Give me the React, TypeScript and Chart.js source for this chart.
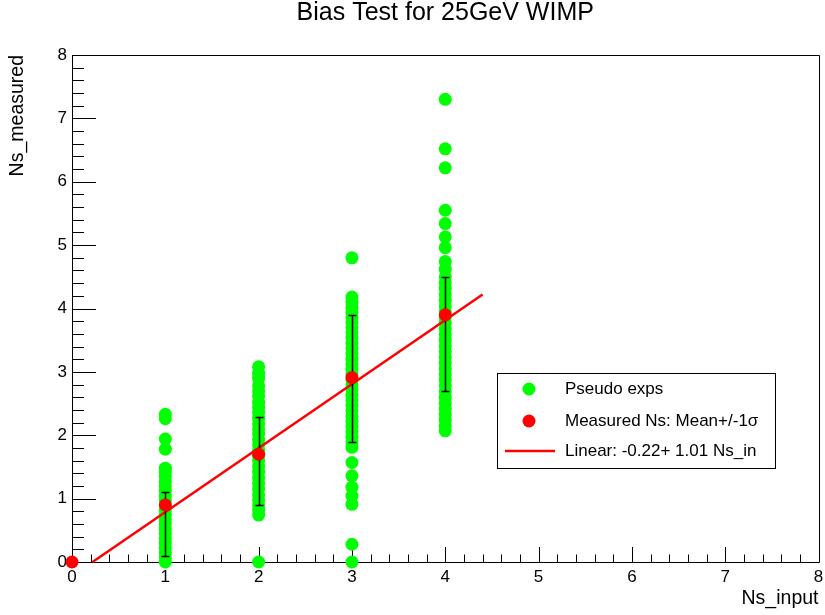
import React, { useEffect, useRef } from 'react';
import { Chart, registerables } from 'chart.js';

Chart.register(...registerables);

const TITLE = 'Bias Test for 25GeV WIMP';
const X_TITLE = 'Ns_input';
const Y_TITLE = 'Ns_measured';

const X_MIN = 0;
const X_MAX = 8;
const Y_MIN = 0;
const Y_MAX = 8;

// Pseudo experiments: measured Ns for each input Ns
const pseudoAt1 = [2.33, 2.26, 1.94, 1.78, 1.48, 1.42, 1.35, 1.27, 1.2, 1.12, 1.04, 0.97, 0.9, 0.82, 0.74, 0.67, 0.6, 0.52, 0.45, 0.37, 0.3, 0.22, 0.15, 0.08, 0.0];
const pseudoAt2 = [3.08, 2.98, 2.9, 2.78, 2.7, 2.62, 2.52, 2.44, 2.36, 2.27, 2.18, 2.1, 2.02, 1.93, 1.85, 1.76, 1.68, 1.6, 1.51, 1.42, 1.33, 1.24, 1.15, 1.06, 0.98, 0.9, 0.82, 0.74, 0.0];
const pseudoAt3 = [4.8, 4.18, 4.1, 4.02, 3.94, 3.86, 3.78, 3.7, 3.62, 3.54, 3.45, 3.37, 3.29, 3.2, 3.12, 3.04, 2.96, 2.88, 2.8, 2.72, 2.63, 2.55, 2.47, 2.39, 2.3, 2.22, 2.14, 2.05, 1.97, 1.89, 1.81, 1.57, 1.36, 1.18, 1.04, 0.91, 0.28, 0.0];
const pseudoAt4 = [7.3, 6.52, 6.22, 5.55, 5.34, 5.13, 4.96, 4.74, 4.62, 4.5, 4.41, 4.32, 4.22, 4.13, 4.04, 3.95, 3.86, 3.77, 3.68, 3.59, 3.5, 3.41, 3.32, 3.23, 3.14, 3.05, 2.96, 2.87, 2.78, 2.69, 2.6, 2.51, 2.42, 2.33, 2.24, 2.15, 2.07];
const pseudoInputs = [1, 2, 3, 4];
const pseudoValues = [pseudoAt1, pseudoAt2, pseudoAt3, pseudoAt4];

// Measured Ns: mean with asymmetric -1 sigma / +1 sigma ends
const meanX = [0, 1, 2, 3, 4];
const meanY = [0, 0.9, 1.7, 2.91, 3.9];
const errLowEnd = [null, 0.1, 0.9, 1.89, 2.7];
const errHighEnd = [null, 1.1, 2.29, 3.9, 4.5];

// Linear fit line
const fitX = [0.22, 4.4];
const fitY = [0, 4.22];

const LEGEND_LABELS = ['Pseudo exps', 'Measured Ns: Mean+/-1\u03c3', 'Linear: -0.22+ 1.01 Ns_in'];

const GREEN = '#00ff00';
const RED = '#ff0000';
const FONT = "'Liberation Sans', Arial, Helvetica, sans-serif";

const rootAxesPlugin = {
  id: 'rootAxes',
  beforeDatasetsDraw(chart: any) {
    const { ctx, chartArea: a, scales } = chart;
    const x = scales.x;
    const y = scales.y;
    ctx.save();
    ctx.strokeStyle = '#000';
    ctx.lineWidth = 1;
    ctx.beginPath();
    ctx.rect(Math.round(a.left) + 0.5, Math.round(a.top) + 0.5, Math.round(a.right - a.left), Math.round(a.bottom - a.top));
    ctx.stroke();
    ctx.beginPath();
    const nx = Math.round((X_MAX - X_MIN) / 0.2);
    for (let i = 0; i <= nx; i++) {
      const v = X_MIN + i * 0.2;
      const px = Math.round(x.getPixelForValue(v)) + 0.5;
      const len = i % 5 === 0 ? 15 : 7.5;
      ctx.moveTo(px, a.bottom);
      ctx.lineTo(px, a.bottom - len);
    }
    const ny = Math.round((Y_MAX - Y_MIN) / 0.2);
    for (let i = 0; i <= ny; i++) {
      const v = Y_MIN + i * 0.2;
      const py = Math.round(y.getPixelForValue(v)) + 0.5;
      const len = i % 5 === 0 ? 24 : 12;
      ctx.moveTo(a.left, py);
      ctx.lineTo(a.left + len, py);
    }
    ctx.stroke();
    ctx.restore();
  },
};

const errorBarPlugin = {
  id: 'errorBars',
  afterDatasetDraw(chart: any, args: any) {
    if (args.index !== 2) return;
    const { ctx, scales } = chart;
    const x = scales.x;
    const y = scales.y;
    ctx.save();
    ctx.strokeStyle = '#000';
    ctx.lineWidth = 1.5;
    ctx.beginPath();
    for (let i = 0; i < meanX.length; i++) {
      const lo = errLowEnd[i];
      const hi = errHighEnd[i];
      if (lo === null || hi === null) continue;
      const px = Math.round(x.getPixelForValue(meanX[i])) + 0.5;
      const pLo = y.getPixelForValue(lo);
      const pHi = y.getPixelForValue(hi);
      ctx.moveTo(px, pLo);
      ctx.lineTo(px, pHi);
      ctx.moveTo(px - 4, Math.round(pLo) + 0.5);
      ctx.lineTo(px + 4, Math.round(pLo) + 0.5);
      ctx.moveTo(px - 4, Math.round(pHi) + 0.5);
      ctx.lineTo(px + 4, Math.round(pHi) + 0.5);
    }
    ctx.stroke();
    ctx.restore();
  },
};

const legendBoxPlugin = {
  id: 'legendBox',
  afterDraw(chart: any) {
    const { ctx } = chart;
    const box = { left: 497, top: 373, right: 775, bottom: 468 };
    const rows = [389, 421, 451];
    ctx.save();
    ctx.fillStyle = '#fff';
    ctx.fillRect(box.left, box.top, box.right - box.left, box.bottom - box.top);
    ctx.strokeStyle = '#000';
    ctx.lineWidth = 1;
    ctx.strokeRect(box.left + 0.5, box.top + 0.5, box.right - box.left, box.bottom - box.top);
    const ds = chart.data.datasets;
    ctx.fillStyle = ds[0].backgroundColor;
    ctx.beginPath();
    ctx.arc(529, rows[0], 6.5, 0, Math.PI * 2);
    ctx.fill();
    ctx.fillStyle = ds[1].backgroundColor;
    ctx.beginPath();
    ctx.arc(529, rows[1], 6.5, 0, Math.PI * 2);
    ctx.fill();
    ctx.strokeStyle = ds[2].borderColor;
    ctx.lineWidth = 2.5;
    ctx.beginPath();
    ctx.moveTo(505, rows[2]);
    ctx.lineTo(555, rows[2]);
    ctx.stroke();
    ctx.fillStyle = '#000';
    ctx.font = `17px ${FONT}`;
    ctx.textBaseline = 'middle';
    ctx.textAlign = 'left';
    for (let i = 0; i < 3; i++) {
      ctx.fillText(ds[i].label, 565, rows[i]);
    }
    ctx.restore();
  },
};

export default function App() {
  const canvasRef = useRef<HTMLCanvasElement | null>(null);

  useEffect(() => {
    const canvas = canvasRef.current;
    if (!canvas) return;
    const pseudoPoints: { x: number; y: number }[] = [];
    pseudoInputs.forEach((xin, k) => {
      pseudoValues[k].forEach((v) => pseudoPoints.push({ x: xin, y: v }));
    });
    const meanPoints = meanX.map((xv, i) => ({ x: xv, y: meanY[i] }));
    const fitPoints = fitX.map((xv, i) => ({ x: xv, y: fitY[i] }));

    const chart = new Chart(canvas, {
      type: 'scatter',
      data: {
        datasets: [
          {
            label: LEGEND_LABELS[0],
            data: pseudoPoints,
            backgroundColor: GREEN,
            borderWidth: 0,
            pointRadius: 6.5,
            order: 2,
            clip: false,
          } as any,
          {
            label: LEGEND_LABELS[1],
            data: meanPoints,
            backgroundColor: RED,
            borderWidth: 0,
            pointRadius: 6.5,
            order: 0,
            clip: false,
          } as any,
          {
            label: LEGEND_LABELS[2],
            data: fitPoints,
            showLine: true,
            borderColor: RED,
            backgroundColor: RED,
            borderWidth: 2.5,
            pointRadius: 0,
            order: 1,
            clip: false,
          } as any,
        ],
      },
      options: {
        responsive: false,
        animation: false,
        devicePixelRatio: 1,
        layout: { padding: { left: 0, right: 3, top: 0, bottom: 0 } },
        font: { family: FONT },
        plugins: {
          legend: { display: false },
          tooltip: { enabled: false },
          title: {
            display: true,
            text: TITLE,
            fullSize: false,
            color: '#000',
            font: { family: FONT, size: 25, weight: 'normal', lineHeight: 1 },
            padding: { top: 1, bottom: 29 },
          },
        },
        scales: {
          x: {
            type: 'linear',
            min: X_MIN,
            max: X_MAX,
            grid: { display: false, drawTicks: false },
            border: { display: false },
            ticks: { stepSize: 1, color: '#000', font: { family: FONT, size: 17 }, padding: 5, maxRotation: 0 },
            title: {
              display: true,
              text: X_TITLE,
              align: 'end',
              color: '#000',
              font: { family: FONT, size: 19.5 },
              padding: { top: 0, bottom: 5 },
            },
            afterFit: (s: any) => {
              s.height = 53;
              s.paddingLeft = 0;
              s.paddingRight = 0;
            },
          },
          y: {
            type: 'linear',
            min: Y_MIN,
            max: Y_MAX,
            grid: { display: false, drawTicks: false },
            border: { display: false },
            ticks: { stepSize: 1, color: '#000', font: { family: FONT, size: 17 }, padding: 5 },
            title: {
              display: true,
              text: Y_TITLE,
              align: 'end',
              color: '#000',
              font: { family: FONT, size: 19.5 },
              padding: { top: 6, bottom: 0 },
            },
            afterFit: (s: any) => {
              s.width = 72;
              s.paddingTop = 0;
              s.paddingBottom = 0;
            },
          },
        },
      } as any,
      plugins: [rootAxesPlugin, errorBarPlugin, legendBoxPlugin],
    });
    return () => chart.destroy();
  }, []);

  return (
    <div style={{ position: 'fixed', left: 0, top: 0, width: 825, height: 615, background: '#fff' }}>
      <canvas ref={canvasRef} width={825} height={615} style={{ display: 'block', width: 825, height: 615 }} />
    </div>
  );
}
